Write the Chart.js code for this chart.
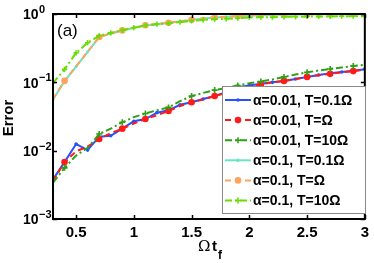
<!DOCTYPE html>
<html><head><meta charset="utf-8">
<script src="https://cdn.jsdelivr.net/npm/chart.js@4.4.1/dist/chart.umd.min.js"></script>
<style>html,body{margin:0;padding:0;background:#fff;}#c{display:block;}</style>
</head><body>
<canvas id="c" width="374" height="263"></canvas>
<script>
// ---- data ----
const tf = [0.3,0.4,0.5,0.6,0.7,0.8,0.9,1.0,1.1,1.2,1.3,1.4,1.5,1.6,1.7,1.8,1.9,2.0,2.1,2.2,2.3,2.4,2.5,2.6,2.7,2.8,2.9,3.0];
const a001_T01 = [0.0038,0.0068,0.0125,0.0102,0.016,0.0165,0.021,0.027,0.029,0.036,0.039,0.047,0.051,0.057,0.063,0.072,0.085,0.09,0.095,0.1,0.105,0.112,0.12,0.128,0.136,0.142,0.148,0.156];
const a001_T1  = [0.0036,0.0068,0.0098,0.0115,0.0148,0.018,0.021,0.025,0.029,0.033,0.038,0.045,0.051,0.056,0.063,0.07,0.078,0.086,0.093,0.1,0.105,0.112,0.12,0.127,0.133,0.14,0.146,0.152];
const a001_T10 = [0.0034,0.0056,0.0085,0.011,0.0175,0.021,0.026,0.031,0.035,0.039,0.043,0.053,0.063,0.07,0.077,0.083,0.09,0.097,0.103,0.11,0.12,0.13,0.14,0.149,0.157,0.165,0.174,0.18];
const a01_T01  = [0.056,0.104,0.17,0.28,0.46,0.52,0.57,0.63,0.68,0.71,0.74,0.78,0.82,0.86,0.89,0.91,0.93,0.95,0.96,0.97,0.98,0.985,0.99,0.99,0.995,0.995,0.995,0.995];
const a01_T1   = [0.057,0.105,0.171,0.28,0.46,0.52,0.575,0.635,0.685,0.715,0.745,0.785,0.825,0.865,0.895,0.915,0.935,0.955,0.965,0.975,0.985,0.99,0.995,0.995,0.998,0.998,0.998,0.998];
const a01_T10  = [0.098,0.155,0.27,0.38,0.48,0.53,0.58,0.63,0.68,0.71,0.73,0.76,0.79,0.82,0.84,0.85,0.87,0.89,0.9,0.9,0.91,0.91,0.92,0.92,0.92,0.93,0.93,0.93];
const seriesLabels = ['α=0.01, T=0.1Ω','α=0.01, T=Ω','α=0.01, T=10Ω','α=0.1, T=0.1Ω','α=0.1, T=Ω','α=0.1, T=10Ω'];
const xTicks = [0.5,1,1.5,2,2.5,3];
const xTickLabels = ['0.5','1','1.5','2','2.5','3'];
const yTicks = [0.001,0.01,0.1,1];
const yTickExponents = ['−3','−2','−1','0'];

// ---- styles ----
const FONT = '"Liberation Sans", Arial, sans-serif';
const marked = i => (i === 1 || (i >= 4 && i % 2 === 0));
const styles = [
  {color:'#2850ff', dash:[], style:'circle', r:()=>1.8, bw:0, lr:1.8},
  {color:'#ff1a1a', dash:[6,4], style:'circle', r:(i)=>marked(i)?3.3:0, bw:0, lr:3.3},
  {color:'#2ea014', dash:[7,3,2,3], style:'cross', r:(i)=>marked(i)?3:0, bw:1.6, lr:3},
  {color:'#66e6c4', dash:[], style:'circle', r:()=>1.5, bw:0, lr:1.8},
  {color:'#ffa35c', dash:[6,4], style:'circle', r:(i)=>marked(i)?3.3:0, bw:0, lr:3.3},
  {color:'#66de00', dash:[7,3,2,3], style:'cross', r:()=>2.6, bw:1.6, lr:3}
];
const seriesData = [a001_T01,a001_T1,a001_T10,a01_T01,a01_T1,a01_T10];

const datasets = seriesData.map((arr,k)=>({
  label: seriesLabels[k],
  data: tf.map((x,i)=>({x, y: arr[i]})),
  borderColor: styles[k].color,
  backgroundColor: styles[k].color,
  pointBackgroundColor: styles[k].color,
  pointBorderColor: styles[k].color,
  borderWidth: 2,
  borderDash: styles[k].dash,
  pointStyle: styles[k].style,
  pointRadius: ctx => styles[k].r(ctx.dataIndex),
  pointBorderWidth: styles[k].bw,
  tension: 0,
  order: 6-k
}));

const decor = {
  id:'decor',
  afterDatasetsDraw(chart){
    const c = chart.ctx, a = chart.chartArea;
    const xs = chart.scales.x, ys = chart.scales.y;
    c.save();
    // frame
    c.strokeStyle = '#000'; c.lineWidth = 2; c.setLineDash([]);
    c.strokeRect(a.left, a.top, a.right-a.left, a.bottom-a.top);
    // ticks
    c.lineWidth = 1.5;
    c.beginPath();
    xTicks.forEach(v=>{ const px = Math.round(xs.getPixelForValue(v))+0.5;
      c.moveTo(px,a.bottom); c.lineTo(px,a.bottom-4);
      c.moveTo(px,a.top); c.lineTo(px,a.top+4); });
    yTicks.forEach(v=>{ const py = Math.round(ys.getPixelForValue(v))+0.5;
      c.moveTo(a.left,py); c.lineTo(a.left+4,py);
      c.moveTo(a.right,py); c.lineTo(a.right-4,py); });
    c.stroke();
    // y tick labels with superscripts
    c.fillStyle = '#000'; c.textBaseline = 'middle'; c.textAlign = 'left';
    yTicks.forEach((v,i)=>{ const py = ys.getPixelForValue(v);
      c.font = 'bold 14px '+FONT; c.fillText('10', 23, py+1.5);
      const w = c.measureText('10').width;
      c.font = 'bold 11px '+FONT; c.fillText(yTickExponents[i], 23+w+0.5, py-4); });
    // (a)
    c.font = '17px '+FONT; c.textBaseline='middle'; c.fillText('(a)', 57, 31);
    // y title
    c.save(); c.translate(9, 118); c.rotate(-Math.PI/2);
    c.font = 'bold 15px '+FONT; c.textAlign='center'; c.fillText('Error', 0, 0); c.restore();
    // x title
    c.font = '15px "DejaVu Serif", serif'; c.textAlign='left';
    c.fillText('Ω', 198, 247);
    c.font = 'bold 15px '+FONT; c.fillText('t', 212, 247);
    c.font = 'bold 12px '+FONT; c.fillText('f', 218, 256);
    // legend
    const L = 222, T = 86, W = 143, H = 127;
    c.fillStyle = '#fff'; c.fillRect(L, T, W, H);
    c.strokeStyle = '#8a8a8a'; c.lineWidth = 1; c.strokeRect(L+0.5, T+0.5, W, H);
    chart.data.datasets.forEach((ds,k)=>{
      const cy = 100 + k*20.1; const st = styles[k];
      c.strokeStyle = st.color; c.lineWidth = 2; c.setLineDash(st.dash);
      c.beginPath(); c.moveTo(225, cy); c.lineTo(251, cy); c.stroke(); c.setLineDash([]);
      c.fillStyle = st.color;
      const mr = st.lr;
      if (st.style==='cross'){ c.lineWidth = 1.6; c.beginPath(); c.moveTo(238-mr,cy); c.lineTo(238+mr,cy); c.moveTo(238,cy-mr); c.lineTo(238,cy+mr); c.stroke(); }
      else { c.beginPath(); c.arc(238, cy, mr, 0, Math.PI*2); c.fill(); }
      c.fillStyle = '#000'; c.font = 'bold 14px '+FONT; c.textBaseline='middle'; c.textAlign='left';
      c.fillText(ds.label, 253, cy+1);
    });
    c.restore();
  }
};

new Chart(document.getElementById('c'), {
  type: 'line',
  data: { datasets },
  options: {
    responsive: false, devicePixelRatio: 1, animation: false,
    layout: { padding: { top: 14, right: 4, left: 0, bottom: 0 } },
    plugins: { legend: { display: false }, tooltip: { enabled: false } },
    scales: {
      x: { type: 'linear', min: 0.3, max: 3,
        afterBuildTicks: s => { s.ticks = xTicks.map(v=>({value:v})); },
        afterFit: s => { s.height = 44; },
        grid: { display: false, drawTicks: false }, border: { display: false },
        ticks: { padding: 5, color: '#000', font: { family: FONT, size: 15, weight: 'bold' }, maxRotation: 0, autoSkip: false,
          callback: (v) => { const i = xTicks.indexOf(v); return i>=0 ? xTickLabels[i] : ''; } } },
      y: { type: 'logarithmic', min: 0.001, max: 1,
        afterBuildTicks: s => { s.ticks = yTicks.map(v=>({value:v})); },
        afterFit: s => { s.width = 53; },
        grid: { display: false, drawTicks: false }, border: { display: false },
        ticks: { display: false } }
    }
  },
  plugins: [decor]
});
</script>
</body></html>
